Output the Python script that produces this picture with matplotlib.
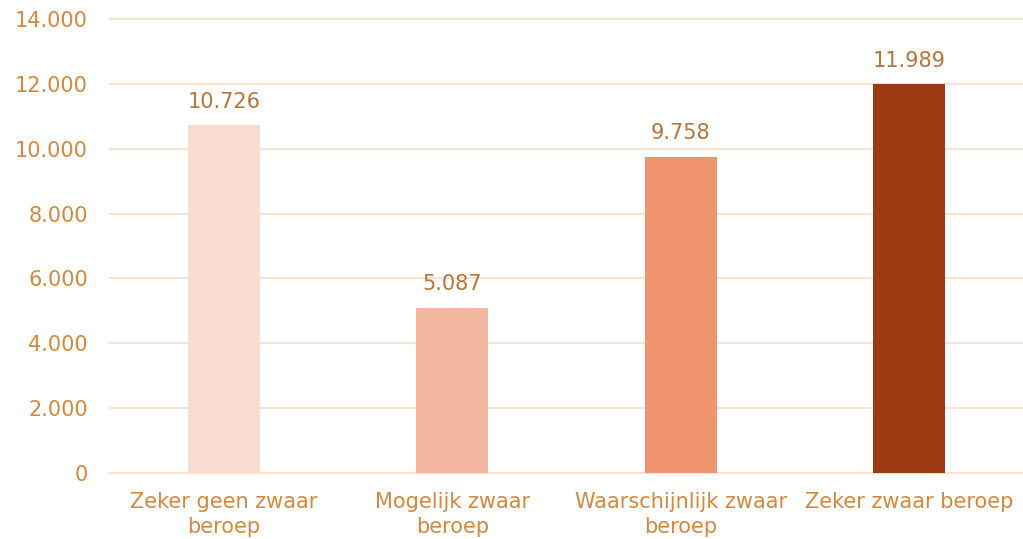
import matplotlib.pyplot as plt
from matplotlib.ticker import FuncFormatter

categories = ['Zeker geen zwaar\nberoep', 'Mogelijk zwaar\nberoep',
              'Waarschijnlijk zwaar\nberoep', 'Zeker zwaar beroep']
values = [10726, 5087, 9758, 11989]
bar_colors = ['#F8DCCF', '#F4B7A0', '#EF946E', '#9C3A14']

text_color = '#D8883C'
label_color = '#B8753A'
grid_color = '#FAE3D0'


def dutch(v, pos=None):
    return f'{int(round(v)):,}'.replace(',', '.')


if __name__ == '__main__':
    fig = plt.figure(figsize=(10.23, 5.39), dpi=100)
    ax = fig.add_axes([0.1075, 0.1224, 0.8925, 0.8423])

    x = range(len(categories))
    bars = ax.bar(x, values, width=0.315, color=bar_colors, zorder=3)

    for b, v in zip(bars, values):
        ax.text(b.get_x() + b.get_width() / 2, v + 420, dutch(v),
                ha='center', va='bottom', fontsize=15, color=label_color)

    ax.set_ylim(0, 14000)
    ax.set_xlim(-0.5, len(categories) - 0.5)
    ax.set_yticks(range(0, 14001, 2000))
    ax.yaxis.set_major_formatter(FuncFormatter(dutch))
    ax.set_xticks(list(x))
    ax.set_xticklabels(categories, fontsize=15, color=text_color, linespacing=1.3)
    ax.tick_params(axis='y', labelsize=15, labelcolor=text_color, length=0, pad=16)
    ax.tick_params(axis='x', length=0, pad=14)

    ax.grid(axis='y', color=grid_color, linewidth=1.5, zorder=0)
    for gl in ax.get_ygridlines():
        gl.set_clip_on(False)
    for s in ['top', 'right', 'left']:
        ax.spines[s].set_visible(False)
    ax.spines['bottom'].set_color(grid_color)
    ax.spines['bottom'].set_linewidth(1.5)

    plt.savefig('out.png', dpi=100)
